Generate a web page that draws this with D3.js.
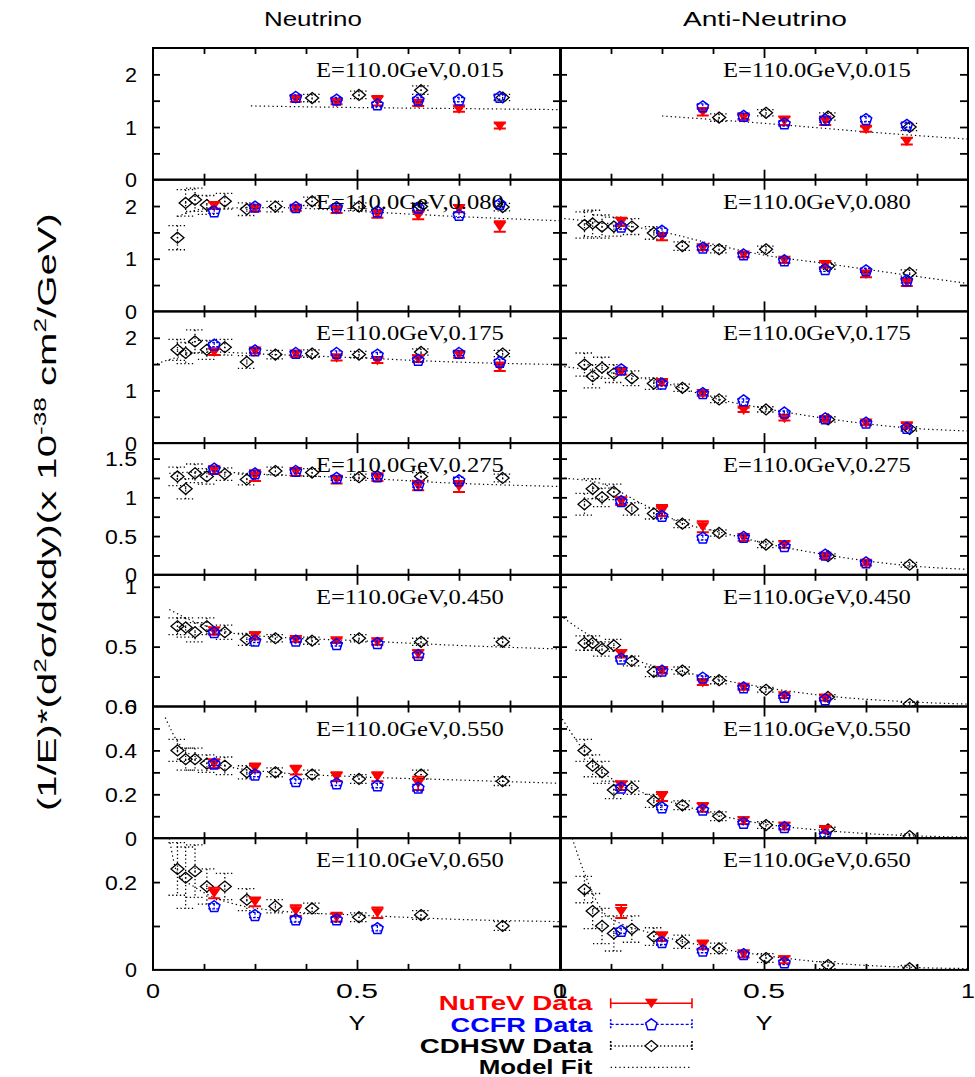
<!DOCTYPE html>
<html><head><meta charset="utf-8">
<script src="https://cdn.jsdelivr.net/npm/d3@7"></script>
<style>body{margin:0;background:#fff}svg{display:block}</style>
</head><body><svg id="c" width="975" height="1077"></svg>
<script>
// ---------------- DATA ----------------
const columnTitles = ["Neutrino", "Anti-Neutrino"];
const xBins = ["0.015","0.080","0.175","0.275","0.450","0.550","0.650"];
const energyText = "E=110.0GeV,";
const yMaxes = [2.5,2.5,2.5,1.7,1.1,0.6,0.3];
const yTickVals = [
  [0.5,1,1.5,2],[0.5,1,1.5,2],[0.5,1,1.5,2],
  [0.25,0.5,0.75,1,1.25,1.5],[0.25,0.5,0.75,1],
  [0.1,0.2,0.3,0.4,0.5],[0.1,0.2]
];
const yLabelVals = [[0,1,2],[0,1,2],[0,1,2],[0,0.5,1,1.5],[0,0.5,1],[0,0.2,0.4,0.6],[0,0.2]];
const xTickVals = [0.125,0.25,0.375,0.5,0.625,0.75,0.875];
const xLabelVals = [0,0.5,1];
const legendNames = ["NuTeV Data","CCFR Data","CDHSW Data","Model Fit"];

const xNuTeV = [0.15,0.25,0.35,0.45,0.55,0.65,0.75,0.85];
const xCDHSW = [0.06,0.08,0.103,0.132,0.176,0.23,0.30,0.39,0.505,0.657,0.857];

// Neutrino
const nuNuTeV = [
 [null,null,1.53,1.47,1.50,1.45,1.34,1.02],
 [2.01,1.96,1.96,1.93,1.85,1.82,1.95,1.61],
 [1.73,1.75,1.69,1.62,1.57,1.60,1.68,1.45],
 [1.35,1.28,1.33,1.23,1.26,1.15,1.14,null],
 [0.63,0.59,0.56,0.55,0.54,0.44,null,null],
 [0.34,0.32,0.31,0.28,0.28,0.25,null,null],
 [0.175,0.155,0.135,0.12,0.13,null,null,null]];
const nuNuTeVErr = [
 [null,null,0.05,0.04,0.09,0.05,0.05,0.05],
 [0.06,0.06,0.05,0.06,0.07,0.07,0.07,0.10],
 [0.06,0.05,0.05,0.05,0.05,0.06,0.06,0.08],
 [0.05,0.07,0.05,0.05,0.05,0.06,0.07,null],
 [0.03,0.03,0.02,0.02,0.025,0.03,null,null],
 [0.02,0.02,0.02,0.02,0.02,0.03,null,null],
 [0.012,0.010,0.012,0.010,0.012,null,null,null]];
const nuCCFR = [
 [null,null,1.57,1.52,1.43,1.52,1.52,1.57],
 [1.90,1.99,1.98,1.98,1.90,1.97,1.83,2.04],
 [1.87,1.76,1.71,1.71,1.68,1.58,1.71,1.54],
 [1.37,1.31,1.34,1.25,1.27,1.16,1.22,null],
 [0.62,0.55,0.55,0.52,0.53,0.43,null,null],
 [0.34,0.29,0.26,0.25,0.24,0.23,null,null],
 [0.145,0.125,0.115,0.115,0.095,null,null,null]];
const nuCCFRErr = [
 [null,null,0.04,0.04,0.04,0.04,0.04,0.05],
 [0.04,0.04,0.04,0.04,0.04,0.05,0.05,0.05],
 [0.04,0.04,0.04,0.04,0.04,0.04,0.05,0.05],
 [0.03,0.03,0.03,0.03,0.03,0.03,0.04,null],
 [0.015,0.015,0.015,0.015,0.015,0.02,null,null],
 [0.01,0.01,0.01,0.01,0.01,0.015,null,null],
 [0.006,0.006,0.006,0.006,0.006,null,null,null]];
const nuCDHSW = [
 [null,null,null,null,null,null,null,1.55,1.61,1.70,1.56],
 [1.40,2.06,2.12,2.02,2.09,1.94,1.99,2.09,1.99,1.99,1.98],
 [1.77,1.71,1.93,1.77,1.82,1.54,1.68,1.70,1.68,1.73,1.70],
 [1.27,1.11,1.31,1.27,1.30,1.23,1.34,1.32,1.26,1.27,1.25],
 [0.67,0.66,0.62,0.67,0.62,0.56,0.57,0.55,0.57,0.54,0.54],
 [0.40,0.36,0.36,0.34,0.33,0.30,0.30,0.29,0.27,0.29,0.26],
 [0.23,0.21,0.225,0.19,0.19,0.16,0.145,0.14,0.12,0.125,0.10]];
const nuCDHSWErr = [
 [null,null,null,null,null,null,null,0.07,0.07,0.08,0.06],
 [0.23,0.25,0.22,0.18,0.15,0.12,0.10,0.08,0.07,0.07,0.07],
 [0.20,0.20,0.22,0.18,0.15,0.12,0.08,0.07,0.06,0.06,0.06],
 [0.12,0.13,0.12,0.10,0.08,0.07,0.05,0.05,0.04,0.05,0.05],
 [0.07,0.08,0.08,0.07,0.06,0.05,0.03,0.03,0.03,0.03,0.03],
 [0.05,0.05,0.05,0.04,0.04,0.03,0.02,0.02,0.02,0.02,0.02],
 [0.06,0.07,0.06,0.04,0.03,0.025,0.015,0.012,0.010,0.010,0.010]];
const nuModelX = [
 [0.24,0.5,0.75,1.0],
 [0.06,0.13,0.3,0.5,0.75,1.0],
 [0.0,0.06,0.13,0.3,0.5,0.7,1.0],
 [0.04,0.13,0.3,0.5,0.75,1.0],
 [0.04,0.1,0.2,0.3,0.5,0.75,1.0],
 [0.03,0.06,0.1,0.15,0.2,0.3,0.5,0.75,1.0],
 [0.04,0.06,0.1,0.15,0.2,0.3,0.5,0.75,1.0]];
const nuModelY = [
 [1.40,1.37,1.35,1.33],
 [1.80,1.95,1.97,1.90,1.80,1.72],
 [1.48,1.63,1.73,1.68,1.62,1.55,1.49],
 [1.31,1.33,1.29,1.25,1.18,1.14],
 [0.81,0.71,0.61,0.58,0.55,0.51,0.48],
 [0.55,0.44,0.37,0.34,0.32,0.30,0.28,0.265,0.25],
 [0.30,0.22,0.19,0.165,0.15,0.135,0.125,0.115,0.11]];

// Anti-neutrino
const anNuTeV = [
 [null,null,1.29,1.19,1.12,1.12,0.96,0.73],
 [1.70,1.42,1.21,1.07,0.97,0.89,0.71,0.55],
 [1.36,1.15,0.94,0.63,0.47,0.45,0.38,0.33],
 [0.95,0.83,0.62,0.48,0.39,0.24,0.15,null],
 [0.44,0.30,0.20,0.16,0.09,0.07,null,null],
 [0.24,0.19,0.14,0.08,0.055,0.04,null,null],
 [0.133,0.076,0.057,0.036,0.023,null,null,null]];
const anNuTeVErr = [
 [null,null,0.07,0.05,0.08,0.08,0.05,0.06],
 [0.08,0.07,0.05,0.04,0.05,0.06,0.06,0.07],
 [0.06,0.05,0.04,0.04,0.04,0.04,0.04,0.05],
 [0.05,0.07,0.07,0.04,0.04,0.03,0.03,null],
 [0.03,0.025,0.02,0.02,0.02,0.02,null,null],
 [0.02,0.02,0.02,0.015,0.015,0.015,null,null],
 [0.015,0.010,0.010,0.008,0.008,null,null,null]];
const anCCFR = [
 [null,null,1.39,1.21,1.07,1.14,1.15,1.04],
 [1.61,1.53,1.21,1.08,0.97,0.80,0.78,0.59],
 [1.40,1.13,0.95,0.81,0.58,0.47,0.39,0.29],
 [0.95,0.76,0.48,0.49,0.37,0.26,0.16,null],
 [0.40,0.30,0.24,0.16,0.08,0.06,null,null],
 [0.23,0.14,0.13,0.07,0.05,0.015,null,null],
 [0.089,0.063,0.044,0.036,0.017,null,null,null]];
const anCCFRErr = [
 [null,null,0.05,0.05,0.05,0.05,0.05,0.05],
 [0.05,0.05,0.04,0.04,0.04,0.04,0.04,0.05],
 [0.04,0.04,0.03,0.03,0.03,0.03,0.03,0.03],
 [0.03,0.03,0.03,0.02,0.02,0.02,0.02,null],
 [0.02,0.015,0.015,0.012,0.012,0.012,null,null],
 [0.012,0.01,0.01,0.008,0.008,0.008,null,null],
 [0.006,0.005,0.005,0.005,0.005,null,null,null]];
const anCDHSW = [
 [null,null,null,null,null,null,null,1.18,1.27,1.20,1.00],
 [1.64,1.67,1.61,1.61,1.61,1.49,1.24,1.18,1.18,0.86,0.73],
 [1.49,1.27,1.43,1.32,1.23,1.13,1.05,0.83,0.64,0.45,0.27],
 [0.91,1.11,1.00,1.07,0.85,0.79,0.66,0.54,0.39,0.24,0.13],
 [0.53,0.53,0.48,0.51,0.38,0.29,0.30,0.22,0.14,0.08,0.02],
 [0.40,0.33,0.30,0.22,0.23,0.17,0.15,0.10,0.06,0.04,0.01],
 [0.183,0.134,0.100,0.083,0.093,0.076,0.064,0.049,0.027,0.011,0.004]];
const anCDHSWErr = [
 [null,null,null,null,null,null,null,0.07,0.06,0.07,0.07],
 [0.25,0.25,0.22,0.18,0.15,0.12,0.08,0.07,0.06,0.06,0.06],
 [0.22,0.22,0.20,0.17,0.14,0.11,0.07,0.06,0.05,0.05,0.04],
 [0.14,0.13,0.12,0.10,0.08,0.07,0.05,0.04,0.04,0.03,0.03],
 [0.06,0.06,0.06,0.05,0.04,0.04,0.03,0.03,0.02,0.02,0.015],
 [0.05,0.05,0.05,0.04,0.03,0.03,0.02,0.02,0.015,0.01,0.01],
 [0.03,0.04,0.04,0.04,0.03,0.02,0.015,0.012,0.010,0.008,0.006]];
const anModelX = [
 [0.25,0.5,0.75,1.0],
 [0.0,0.25,0.4,0.5,0.65,0.85,1.0],
 [0.0,0.25,0.4,0.5,0.65,0.85,1.0],
 [0.0,0.1,0.2,0.3,0.4,0.5,0.65,0.85,1.0],
 [0.0,0.06,0.1,0.2,0.3,0.4,0.5,0.65,0.85,1.0],
 [0.0,0.05,0.1,0.2,0.3,0.4,0.5,0.65,0.85,1.0],
 [0.03,0.06,0.1,0.15,0.2,0.3,0.4,0.5,0.65,0.85,1.0]];
const anModelY = [
 [1.21,1.07,0.91,0.77],
 [1.77,1.51,1.23,1.07,0.91,0.69,0.53],
 [1.46,1.15,0.81,0.66,0.47,0.29,0.23],
 [1.25,1.18,0.92,0.67,0.54,0.41,0.26,0.12,0.07],
 [0.76,0.62,0.54,0.37,0.29,0.22,0.16,0.09,0.04,0.02],
 [0.56,0.42,0.31,0.21,0.15,0.10,0.065,0.035,0.012,0.005],
 [0.30,0.22,0.14,0.105,0.09,0.065,0.047,0.033,0.017,0.006,0.003]];

// ---------------- LAYOUT ----------------
const svg = d3.select("#c");
const X0 = [153, 560], PW = 408, TOP = 48, RH = 131.7;
const RED = "#ff0000", BLUE = "#0000ff";
const SANS = "'Liberation Sans', Arial, sans-serif";
const SERIF = "'Liberation Serif', 'Times New Roman', serif";

function fitText(parent, build, x, y, width, anchor, rotate) {
  const g = parent.append("g");
  const t = g.append("text").attr("x", 0).attr("y", 0);
  build(t);
  const len = t.node().getComputedTextLength();
  const k = width / len;
  const dx = anchor === "end" ? -width : anchor === "middle" ? -width / 2 : 0;
  g.attr("transform", `translate(${x},${y}) rotate(${rotate || 0}) translate(${dx},0) scale(${k},1)`);
  return t;
}

const tri = "M-6.5,-4.5L6.5,-4.5L0,5Z";
const pent = (() => { const p = []; for (let i = 0; i < 5; i++) { const a = -Math.PI / 2 + i * 2 * Math.PI / 5; p.push([6 * Math.cos(a), 6 * Math.sin(a) + 0.5]); } return "M" + p.map(d => d.join(",")).join("L") + "Z"; })();
const diam = "M0,-5.5L6.5,0L0,5.5L-6.5,0Z";

const datasets = [
  [nuNuTeV, nuNuTeVErr, nuCCFR, nuCCFRErr, nuCDHSW, nuCDHSWErr, nuModelX, nuModelY],
  [anNuTeV, anNuTeVErr, anCCFR, anCCFRErr, anCDHSW, anCDHSWErr, anModelX, anModelY]
];

const defs = svg.append("defs");

for (let c = 0; c < 2; c++) {
  for (let r = 0; r < 7; r++) {
    const [nt, nte, cc, cce, cd, cde, mx, my] = datasets[c];
    const y0 = TOP + r * RH;
    const x = d3.scaleLinear().domain([0, 1]).range([X0[c], X0[c] + PW]);
    const y = d3.scaleLinear().domain([0, yMaxes[r]]).range([y0 + RH, y0]);
    const id = `clip${c}${r}`;
    defs.append("clipPath").attr("id", id).append("rect")
      .attr("x", X0[c]).attr("y", y0).attr("width", PW).attr("height", RH);
    const g = svg.append("g");
    const gc = g.append("g").attr("clip-path", `url(#${id})`);

    // model fit
    const line = d3.line().x(d => x(d[0])).y(d => y(d[1])).curve(d3.curveMonotoneX);
    gc.append("path").datum(mx[r].map((v, i) => [v, my[r][i]]))
      .attr("d", line).attr("fill", "none").attr("stroke", "#000")
      .attr("stroke-width", 1.2).attr("stroke-dasharray", "1.3,3");

    // CDHSW
    const cdPts = xCDHSW.map((v, i) => ({ x: v, y: cd[r][i], e: cde[r][i] })).filter(d => d.y != null);
    const cdg = gc.append("g").attr("stroke", "#000").attr("fill", "none");
    cdPts.forEach(d => {
      const px = x(d.x), py = y(d.y), pt = y(d.y + d.e), pb = y(d.y - d.e);
      cdg.append("line").attr("x1", px).attr("x2", px).attr("y1", pt).attr("y2", pb)
        .attr("stroke-width", 1.3).attr("stroke-dasharray", "1.3,2.5");
      [pt, pb].forEach(yy => cdg.append("line").attr("x1", px - 9).attr("x2", px + 9)
        .attr("y1", yy).attr("y2", yy).attr("stroke-width", 1.3).attr("stroke-dasharray", "1.3,2.5"));
      cdg.append("path").attr("d", diam).attr("transform", `translate(${px},${py})`)
        .attr("stroke-width", 1.3);
      cdg.append("circle").attr("cx", px).attr("cy", py).attr("r", 0.8).attr("fill", "#000").attr("stroke", "none");
    });

    // NuTeV
    const ntPts = xNuTeV.map((v, i) => ({ x: v, y: nt[r][i], e: nte[r][i] })).filter(d => d.y != null);
    const ntg = gc.append("g").attr("stroke", RED);
    ntPts.forEach(d => {
      const px = x(d.x), py = y(d.y), pt = y(d.y + d.e), pb = y(d.y - d.e);
      ntg.append("line").attr("x1", px).attr("x2", px).attr("y1", pt).attr("y2", pb).attr("stroke-width", 1.6);
      [pt, pb].forEach(yy => ntg.append("line").attr("x1", px - 6).attr("x2", px + 6)
        .attr("y1", yy).attr("y2", yy).attr("stroke-width", 2));
      ntg.append("path").attr("d", tri).attr("transform", `translate(${px},${py})`)
        .attr("fill", RED).attr("stroke", "none");
    });

    // CCFR
    const ccPts = xNuTeV.map((v, i) => ({ x: v, y: cc[r][i], e: cce[r][i] })).filter(d => d.y != null);
    const ccg = gc.append("g").attr("stroke", BLUE).attr("fill", "none");
    ccPts.forEach(d => {
      const px = x(d.x), py = y(d.y), pt = y(d.y + d.e), pb = y(d.y - d.e);
      ccg.append("line").attr("x1", px).attr("x2", px).attr("y1", pt).attr("y2", pb)
        .attr("stroke-width", 1.2).attr("stroke-dasharray", "2.5,1.5");
      [pt, pb].forEach(yy => ccg.append("line").attr("x1", px - 6).attr("x2", px + 6)
        .attr("y1", yy).attr("y2", yy).attr("stroke-width", 1.4).attr("stroke-dasharray", "2.5,1.5"));
      ccg.append("path").attr("d", pent).attr("transform", `translate(${px},${py})`)
        .attr("stroke-width", 1.5);
    });

    // axes (ticks inward)
    const tickStyle = s => { s.select(".domain").remove(); s.selectAll("line").attr("stroke", "#000").attr("stroke-width", 1.8); s.selectAll("text").remove(); };
    g.append("g").attr("transform", `translate(0,${y0})`)
      .call(d3.axisTop(x).tickValues(xTickVals).tickSizeInner(-6).tickSizeOuter(0))
      .call(tickStyle).selectAll(".tick line").filter(d => d === 0.5).attr("y2", 10);
    g.append("g").attr("transform", `translate(0,${y0 + RH})`)
      .call(d3.axisBottom(x).tickValues(xTickVals).tickSizeInner(-6).tickSizeOuter(0))
      .call(tickStyle).selectAll(".tick line").filter(d => d === 0.5).attr("y2", -10);
    g.append("g").attr("transform", `translate(${X0[c]},0)`)
      .call(d3.axisLeft(y).tickValues(yTickVals[r]).tickSizeInner(-7).tickSizeOuter(0)).call(tickStyle);
    g.append("g").attr("transform", `translate(${X0[c] + PW},0)`)
      .call(d3.axisRight(y).tickValues(yTickVals[r]).tickSizeInner(-8).tickSizeOuter(0)).call(tickStyle);

    // frame
    g.append("rect").attr("x", X0[c]).attr("y", y0).attr("width", PW).attr("height", RH)
      .attr("fill", "none").attr("stroke", "#000").attr("stroke-width", 2);

    // y tick labels (left column only)
    if (c === 0) {
      yLabelVals[r].forEach(v => {
        fitText(g, t => t.text(d3.format("~g")(v)).attr("font-family", SANS).attr("font-size", 21).attr("fill", "#000"),
          137, y(v) + 7.5, String(v).length === 1 ? 12 : 32, "end");
      });
    }

    // panel label
    fitText(g, t => t.text(energyText + xBins[r]).attr("font-family", SERIF).attr("font-size", 20).attr("fill", "#000"),
      X0[c] + 163, y0 + 29, 188, "start");

    // x tick labels on bottom row
    if (r === 6) {
      xLabelVals.forEach(v => {
        const s = d3.format("~g")(v);
        fitText(g, t => t.text(s).attr("font-family", SANS).attr("font-size", 20).attr("fill", "#000"),
          x(v), 998, s.length === 1 ? 14 : 42, "middle");
      });
      fitText(g, t => t.text("Y").attr("font-family", SANS).attr("font-size", 21).attr("fill", "#000"),
        x(0.5), 1030, 17, "middle");
    }
  }
  // column titles
  fitText(svg, t => t.text(columnTitles[c]).attr("font-family", SANS).attr("font-size", 21).attr("fill", "#000"),
    c === 0 ? 313 : 765, 26, c === 0 ? 98 : 164, "middle");
}

// y-axis title
fitText(svg, t => {
  t.attr("font-family", SANS).attr("font-size", 26).attr("fill", "#000");
  t.append("tspan").text("(1/E)*(d");
  t.append("tspan").text("2").attr("font-size", 17).attr("dy", -10);
  t.append("tspan").text("σ/dxdy)(x 10").attr("dy", 10);
  t.append("tspan").text("-38").attr("font-size", 17).attr("dy", -10);
  t.append("tspan").text(" cm").attr("dy", 10);
  t.append("tspan").text("2").attr("font-size", 17).attr("dy", -10);
  t.append("tspan").text("/GeV)").attr("dy", 10);
}, 56, 512, 598, "middle", -90);

// legend
const legColors = [RED, BLUE, "#000", "#000"];
const legWidths = [153.7, 142, 172.7, 113.8];
const legBase = [1010, 1031.5, 1052.5, 1073.5];
const legLineY = [1003.3, 1024.3, 1046, 1067.3];
const lx = d3.scaleLinear().domain([0, 1]).range([610.7, 692]);
legendNames.forEach((name, i) => {
  fitText(svg, t => t.text(name).attr("font-family", SANS).attr("font-weight", "bold").attr("font-size", 21).attr("fill", legColors[i]),
    592.5, legBase[i], legWidths[i], "end");
  const ly = legLineY[i];
  const lg = svg.append("g").attr("stroke", legColors[i]).attr("fill", "none");
  const dash = i === 0 ? null : i === 1 ? "3,2" : i === 2 ? "1.3,2.5" : "1.3,3";
  lg.append("line").attr("x1", lx(0)).attr("x2", lx(1)).attr("y1", ly).attr("y2", ly)
    .attr("stroke-width", i === 0 ? 1.6 : 1.3).attr("stroke-dasharray", dash);
  if (i < 3) {
    [0, 1].forEach(v => lg.append("line").attr("x1", lx(v)).attr("x2", lx(v)).attr("y1", ly - 5).attr("y2", ly + 5)
      .attr("stroke-width", 1.6).attr("stroke-dasharray", i === 0 ? null : "2,1.5"));
  }
  const mx = lx(0.5);
  if (i === 0) lg.append("path").attr("d", tri).attr("transform", `translate(${mx},${ly})`).attr("fill", RED).attr("stroke", "none");
  if (i === 1) lg.append("path").attr("d", pent).attr("transform", `translate(${mx},${ly})`).attr("fill", "#fff").attr("stroke-width", 1.5);
  if (i === 2) {
    lg.append("path").attr("d", diam).attr("transform", `translate(${mx},${ly})`).attr("fill", "#fff").attr("stroke-width", 1.3);
    lg.append("circle").attr("cx", mx).attr("cy", ly).attr("r", 0.8).attr("fill", "#000").attr("stroke", "none");
  }
});
</script>
</body></html>
